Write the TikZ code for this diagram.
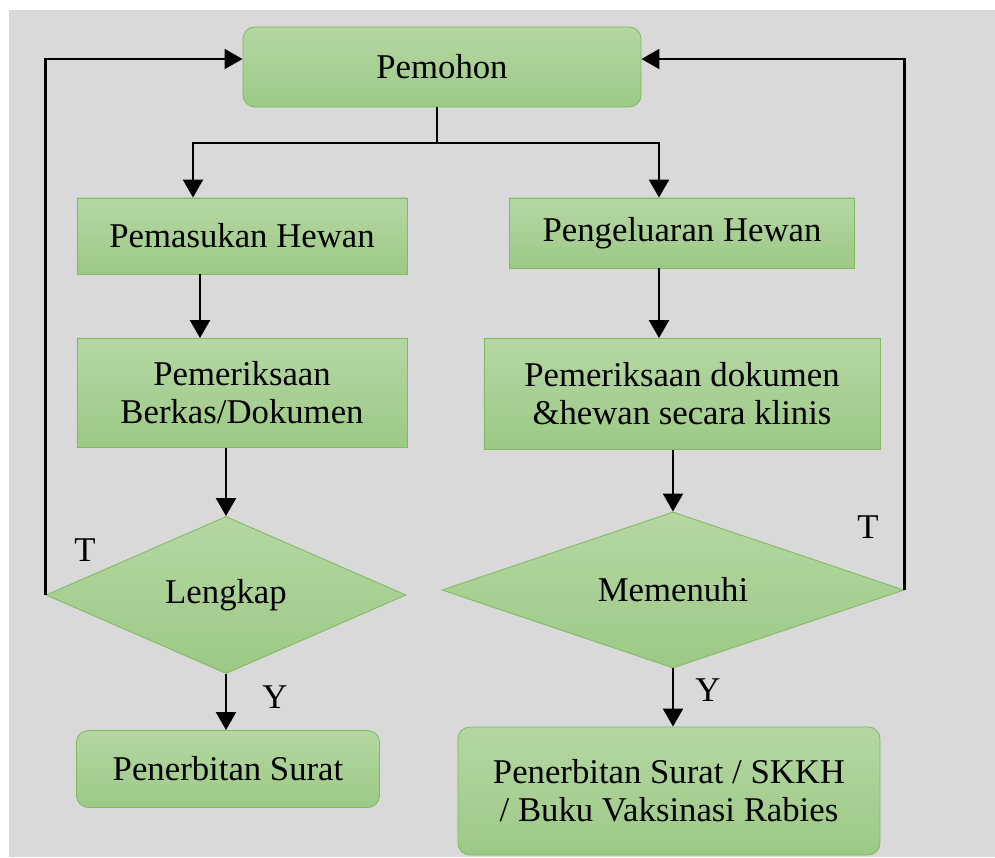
\documentclass[tikz,border=0pt]{standalone}
\usepackage{fontspec}
\setmainfont{Liberation Serif}
\usepackage{tikz}
\usetikzlibrary{shapes.geometric,arrows.meta}
\definecolor{bggray}{HTML}{D9D9D9}
\definecolor{boxtop}{HTML}{B5D7A3}
\definecolor{boxbot}{HTML}{9CC985}
\definecolor{boxline}{HTML}{7FBA5F}

\begin{document}
\begin{tikzpicture}[x=0.025cm, y=-0.025cm,
    box/.style={draw=boxline, line width=0.6pt, top color=boxtop, bottom color=boxbot, align=center, font=\fontsize{24.7}{27}\selectfont, inner sep=0pt},
    rbox/.style={box, rounded corners=0.3cm},
    decide/.style={box, diamond, aspect=2.3},
    arr/.style={-{Triangle[length=0.45cm,width=0.5cm]}, line width=1.6pt, black},
    lbl/.style={font=\fontsize{24.7}{27}\selectfont}]
    % basics
    \useasboundingbox (0,0) rectangle (995,857);
    \fill[bggray] (9,10) rectangle (995,857);

    % boxes
    \node[rbox, minimum width=9.95cm, minimum height=2cm] (pemohon) at (442,67) {Pemohon};
    \node[box, minimum width=8.25cm, minimum height=1.9cm] (masuk) at (242,236) {Pemasukan Hewan};
    \node[box, minimum width=8.625cm, minimum height=1.75cm] (keluar) at (682,233) {Pengeluaran Hewan};
    \node[box, minimum width=8.25cm, minimum height=2.725cm] (berkas) at (242,393) {Pemeriksaan\\Berkas/Dokumen};
    \node[box, minimum width=9.9cm, minimum height=2.775cm] (klinis) at (682,394) {Pemeriksaan dokumen\\\&hewan secara klinis};
    \node[decide, minimum width=9cm, minimum height=3.925cm] (lengkap) at (226,595) {Lengkap};
    \node[decide, minimum width=11.55cm, minimum height=3.9cm] (memenuhi) at (673,590) {Memenuhi};
    \node[rbox, minimum width=7.575cm, minimum height=1.925cm] (suratA) at (228,769) {Penerbitan Surat};
    \node[rbox, minimum width=10.55cm, minimum height=3.2cm] (suratB) at (669,791) {Penerbitan Surat / SKKH\\/ Buku Vaksinasi Rabies};

    % text
    \node[lbl] (tkiri) at (85,550) {T};
    \node[lbl] (tkanan) at (868,527) {T};
    \node[lbl] (ykiri) at (275,697) {Y};
    \node[lbl] (ykanan) at (708,690) {Y};

    % arrows
    \coordinate (split) at (437,143);
    \draw[line width=1.6pt] (pemohon.south -| split) -- (split);
    \draw[arr] (split) -| ([xshift=-1.225cm]masuk.north);
    \draw[arr] (split) -| ([xshift=-0.575cm]keluar.north);
    \draw[arr] ([xshift=-1.05cm]masuk.south) -- ([xshift=-1.05cm]berkas.north);
    \draw[arr] (berkas.south -| lengkap.north) -- (lengkap.north);
    \draw[arr] (lengkap.south) -- (lengkap.south |- suratA.north);
    \draw[arr] ([xshift=-0.575cm]keluar.south) -- ([xshift=-0.575cm]klinis.north);
    \draw[arr] (klinis.south -| memenuhi.north) -- (memenuhi.north);
    \draw[arr] (memenuhi.south) -- (memenuhi.south |- suratB.north);
    % back to pemohon
    \draw[arr] (lengkap.west) |- ([yshift=0.2cm]pemohon.west);
    \draw[arr] (memenuhi.east) |- ([yshift=0.2cm]pemohon.east);
\end{tikzpicture}
\end{document}
